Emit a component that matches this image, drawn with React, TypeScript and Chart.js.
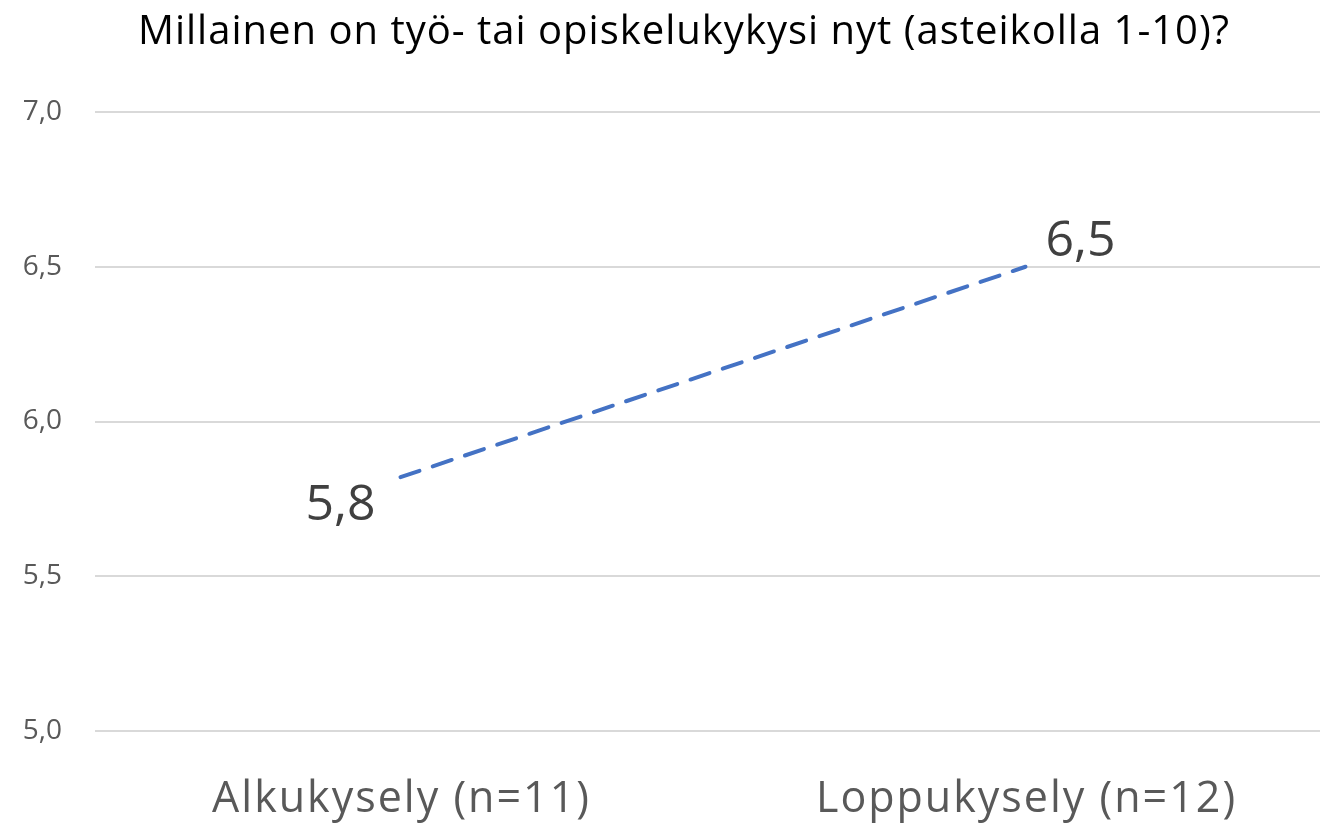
import React, { useEffect, useRef } from "react";
import { Chart, registerables } from "chart.js";

Chart.register(...registerables);

const TITLE = "Millainen on työ- tai opiskelukykysi nyt (asteikolla 1-10)?";
const categories = ["Alkukysely (n=11)", "Loppukysely (n=12)"];
const values = [5.82, 6.5];
const yTicks = [5.0, 5.5, 6.0, 6.5, 7.0];

const FONT = "'Open Sans', 'Noto Sans', sans-serif";
const fmt = (v: number) => v.toFixed(1).replace(".", ",");

const gridPlugin = {
  id: "fullGrid",
  beforeDatasetsDraw(chart: any) {
    const ctx = chart.ctx;
    const ys = chart.scales.y;
    ctx.save();
    ctx.strokeStyle = "#d9d9d9";
    ctx.lineWidth = 2;
    yTicks.forEach((v) => {
      const y = Math.round(ys.getPixelForValue(v));
      ctx.beginPath();
      ctx.moveTo(95, y);
      ctx.lineTo(chart.width, y);
      ctx.stroke();
    });
    ctx.restore();
  },
};

const overlayPlugin = {
  id: "overlay",
  afterDatasetsDraw(chart: any) {
    const ctx = chart.ctx;
    ctx.save();
    // title
    ctx.fillStyle = "#000000";
    ctx.font = `40px ${FONT}`;
    (ctx as any).letterSpacing = "1px";
    ctx.textAlign = "center";
    ctx.textBaseline = "alphabetic";
    ctx.fillText(TITLE, 684, 44);
    // category labels
    const xs = chart.scales.x;
    ctx.fillStyle = "#595959";
    ctx.font = `43px ${FONT}`;
    (ctx as any).letterSpacing = "2px";
    categories.forEach((c, i) => {
      ctx.fillText(c, xs.getPixelForTick(i) + 1, 812);
    });
    // data labels
    (ctx as any).letterSpacing = "0px";
    const meta = chart.getDatasetMeta(0);
    ctx.fillStyle = "#404040";
    ctx.font = `50px ${FONT}`;
    meta.data.forEach((pt: any, i: number) => {
      const txt = fmt(values[i]);
      if (i === 0) {
        ctx.textAlign = "right";
        ctx.fillText(txt, pt.x - 25, pt.y + 43);
      } else {
        ctx.textAlign = "left";
        ctx.fillText(txt, pt.x + 20, pt.y - 11);
      }
    });
    ctx.restore();
  },
};

export default function App() {
  const ref = useRef<HTMLCanvasElement | null>(null);
  useEffect(() => {
    document.documentElement.style.overflow = "hidden";
    document.body.style.overflow = "hidden";
    document.body.style.margin = "0";
    if (!ref.current) return;
    const chart = new Chart(ref.current, {
      type: "line",
      data: {
        labels: categories,
        datasets: [
          {
            data: values,
            borderColor: "#4472C4",
            borderWidth: 4,
            borderDash: [20, 14],
            borderCapStyle: "round",
            pointRadius: 0,
            tension: 0,
            clip: false,
          },
        ],
      },
      options: {
        animation: false,
        responsive: false,
        layout: { autoPadding: false, padding: { top: 112, left: 0, right: 0, bottom: 0 } },
        plugins: { legend: { display: false }, tooltip: { enabled: false } },
        scales: {
          x: {
            type: "category",
            offset: true,
            grid: { display: false, drawTicks: false },
            border: { display: false },
            ticks: { display: false },
            afterFit: (s: any) => {
              s.height = 93;
            },
          },
          y: {
            min: 5,
            max: 7,
            afterBuildTicks: (s: any) => {
              s.ticks = yTicks.map((v) => ({ value: v }));
            },
            grid: { display: false, drawTicks: false },
            border: { display: false },
            ticks: {
              color: "#595959",
              font: { family: FONT, size: 28 },
              padding: 26,
              callback: (v: any) => fmt(Number(v)),
            },
            afterFit: (s: any) => {
              s.width = 88;
            },
          },
        },
      },
      plugins: [gridPlugin, overlayPlugin],
    } as any);
    return () => chart.destroy();
  }, []);
  return (
    <div
      style={{
        position: "fixed",
        left: 0,
        top: 0,
        width: 1320,
        height: 824,
        overflow: "hidden",
        background: "#fff",
      }}
    >
      <canvas ref={ref} width={1338} height={824} style={{ display: "block" }} />
    </div>
  );
}
